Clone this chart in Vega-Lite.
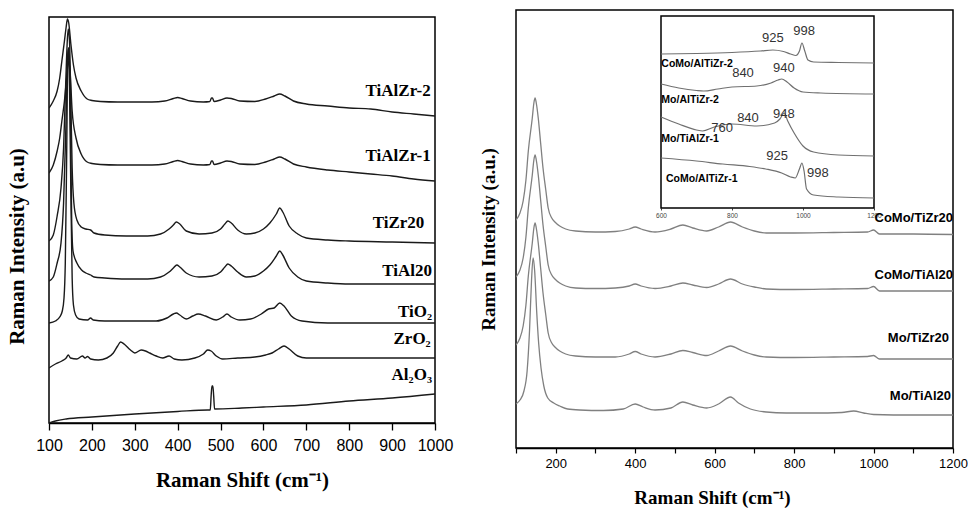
{
"$schema": "https://vega.github.io/schema/vega-lite/v6.json",
"padding": {"left": 6, "top": 9, "right": 0, "bottom": 0},
"background": "white",
"spacing": 25,
"config": {"view": {"stroke": "black", "strokeWidth": 1.5}, "axis": {"grid": false, "domainColor": "black", "tickColor": "black", "labelColor": "black", "titleColor": "black"}},
"datasets": {
"LF": [{"x":100,"x2":1000,"y":0,"y2":406}],
"L": [
{"s":"TiAlZr-2","x":100,"y":315},{"s":"TiAlZr-2","x":110,"y":322},{"s":"TiAlZr-2","x":119,"y":332},{"s":"TiAlZr-2","x":125,"y":345},{"s":"TiAlZr-2","x":130,"y":362},{"s":"TiAlZr-2","x":136,"y":382},{"s":"TiAlZr-2","x":140,"y":396},{"s":"TiAlZr-2","x":143,"y":404},{"s":"TiAlZr-2","x":146,"y":400},{"s":"TiAlZr-2","x":151,"y":379},{"s":"TiAlZr-2","x":157,"y":358},{"s":"TiAlZr-2","x":163,"y":345},{"s":"TiAlZr-2","x":175,"y":332},{"s":"TiAlZr-2","x":189,"y":324},{"s":"TiAlZr-2","x":200,"y":322.5},{"s":"TiAlZr-2","x":220,"y":321.5},{"s":"TiAlZr-2","x":260,"y":321},{"s":"TiAlZr-2","x":300,"y":321},{"s":"TiAlZr-2","x":340,"y":321},{"s":"TiAlZr-2","x":370,"y":322},{"s":"TiAlZr-2","x":390,"y":324.5},{"s":"TiAlZr-2","x":400,"y":325.5},{"s":"TiAlZr-2","x":410,"y":324.5},{"s":"TiAlZr-2","x":430,"y":322},{"s":"TiAlZr-2","x":460,"y":321},{"s":"TiAlZr-2","x":475,"y":321.5},{"s":"TiAlZr-2","x":479,"y":325},{"s":"TiAlZr-2","x":481,"y":325},{"s":"TiAlZr-2","x":485,"y":321.5},{"s":"TiAlZr-2","x":500,"y":323},{"s":"TiAlZr-2","x":515,"y":325},{"s":"TiAlZr-2","x":525,"y":324.5},{"s":"TiAlZr-2","x":545,"y":322},{"s":"TiAlZr-2","x":580,"y":321.5},{"s":"TiAlZr-2","x":605,"y":324},{"s":"TiAlZr-2","x":625,"y":327},{"s":"TiAlZr-2","x":638,"y":329},{"s":"TiAlZr-2","x":650,"y":327},{"s":"TiAlZr-2","x":670,"y":322},{"s":"TiAlZr-2","x":700,"y":319},{"s":"TiAlZr-2","x":750,"y":317},{"s":"TiAlZr-2","x":800,"y":315},{"s":"TiAlZr-2","x":850,"y":314},{"s":"TiAlZr-2","x":900,"y":311},{"s":"TiAlZr-2","x":950,"y":309},{"s":"TiAlZr-2","x":1000,"y":307},
{"s":"TiAlZr-1","x":100,"y":250},{"s":"TiAlZr-1","x":110,"y":258},{"s":"TiAlZr-1","x":119,"y":272},{"s":"TiAlZr-1","x":125,"y":285},{"s":"TiAlZr-1","x":130,"y":302},{"s":"TiAlZr-1","x":136,"y":322},{"s":"TiAlZr-1","x":140,"y":340},{"s":"TiAlZr-1","x":144,"y":358},{"s":"TiAlZr-1","x":146,"y":362},{"s":"TiAlZr-1","x":149,"y":352},{"s":"TiAlZr-1","x":154,"y":312},{"s":"TiAlZr-1","x":163,"y":285},{"s":"TiAlZr-1","x":175,"y":269},{"s":"TiAlZr-1","x":189,"y":261},{"s":"TiAlZr-1","x":200,"y":259.5},{"s":"TiAlZr-1","x":220,"y":258.5},{"s":"TiAlZr-1","x":260,"y":258},{"s":"TiAlZr-1","x":300,"y":258},{"s":"TiAlZr-1","x":340,"y":258},{"s":"TiAlZr-1","x":370,"y":259},{"s":"TiAlZr-1","x":390,"y":261.5},{"s":"TiAlZr-1","x":400,"y":262.5},{"s":"TiAlZr-1","x":410,"y":261.5},{"s":"TiAlZr-1","x":430,"y":259},{"s":"TiAlZr-1","x":460,"y":258},{"s":"TiAlZr-1","x":475,"y":258.5},{"s":"TiAlZr-1","x":479,"y":262},{"s":"TiAlZr-1","x":481,"y":262},{"s":"TiAlZr-1","x":485,"y":258.5},{"s":"TiAlZr-1","x":500,"y":260},{"s":"TiAlZr-1","x":515,"y":262},{"s":"TiAlZr-1","x":525,"y":261.5},{"s":"TiAlZr-1","x":545,"y":259},{"s":"TiAlZr-1","x":580,"y":258.5},{"s":"TiAlZr-1","x":605,"y":261},{"s":"TiAlZr-1","x":625,"y":264},{"s":"TiAlZr-1","x":638,"y":266},{"s":"TiAlZr-1","x":650,"y":264},{"s":"TiAlZr-1","x":670,"y":259},{"s":"TiAlZr-1","x":700,"y":256},{"s":"TiAlZr-1","x":750,"y":253},{"s":"TiAlZr-1","x":800,"y":251},{"s":"TiAlZr-1","x":850,"y":249},{"s":"TiAlZr-1","x":900,"y":247},{"s":"TiAlZr-1","x":950,"y":244},{"s":"TiAlZr-1","x":1000,"y":242},
{"s":"TiZr20","x":100,"y":182},{"s":"TiZr20","x":110,"y":188},{"s":"TiZr20","x":119,"y":207},{"s":"TiZr20","x":128,"y":235},{"s":"TiZr20","x":134,"y":275},{"s":"TiZr20","x":139,"y":340},{"s":"TiZr20","x":143,"y":385},{"s":"TiZr20","x":145,"y":394},{"s":"TiZr20","x":148,"y":380},{"s":"TiZr20","x":151,"y":320},{"s":"TiZr20","x":154,"y":255},{"s":"TiZr20","x":158,"y":220},{"s":"TiZr20","x":165,"y":203},{"s":"TiZr20","x":175,"y":196},{"s":"TiZr20","x":186,"y":194},{"s":"TiZr20","x":197,"y":193},{"s":"TiZr20","x":205,"y":190},{"s":"TiZr20","x":230,"y":188},{"s":"TiZr20","x":280,"y":187},{"s":"TiZr20","x":330,"y":187},{"s":"TiZr20","x":360,"y":189},{"s":"TiZr20","x":380,"y":194},{"s":"TiZr20","x":390,"y":198},{"s":"TiZr20","x":397,"y":201},{"s":"TiZr20","x":405,"y":199},{"s":"TiZr20","x":420,"y":192},{"s":"TiZr20","x":450,"y":189},{"s":"TiZr20","x":480,"y":190},{"s":"TiZr20","x":500,"y":194},{"s":"TiZr20","x":510,"y":199},{"s":"TiZr20","x":517,"y":202},{"s":"TiZr20","x":525,"y":200},{"s":"TiZr20","x":540,"y":193},{"s":"TiZr20","x":560,"y":189},{"s":"TiZr20","x":580,"y":190},{"s":"TiZr20","x":600,"y":194},{"s":"TiZr20","x":615,"y":200},{"s":"TiZr20","x":630,"y":209},{"s":"TiZr20","x":638,"y":215},{"s":"TiZr20","x":645,"y":211},{"s":"TiZr20","x":660,"y":197},{"s":"TiZr20","x":680,"y":189},{"s":"TiZr20","x":700,"y":185},{"s":"TiZr20","x":750,"y":183},{"s":"TiZr20","x":800,"y":182},{"s":"TiZr20","x":900,"y":181},{"s":"TiZr20","x":1000,"y":180},
{"s":"TiAl20","x":100,"y":142},{"s":"TiAl20","x":110,"y":146},{"s":"TiAl20","x":119,"y":160},{"s":"TiAl20","x":128,"y":180},{"s":"TiAl20","x":134,"y":220},{"s":"TiAl20","x":139,"y":290},{"s":"TiAl20","x":143,"y":360},{"s":"TiAl20","x":146,"y":375},{"s":"TiAl20","x":149,"y":340},{"s":"TiAl20","x":151,"y":270},{"s":"TiAl20","x":153,"y":200},{"s":"TiAl20","x":156,"y":172},{"s":"TiAl20","x":165,"y":160},{"s":"TiAl20","x":176,"y":153},{"s":"TiAl20","x":186,"y":150},{"s":"TiAl20","x":197,"y":148},{"s":"TiAl20","x":205,"y":146},{"s":"TiAl20","x":230,"y":145},{"s":"TiAl20","x":280,"y":144},{"s":"TiAl20","x":330,"y":144},{"s":"TiAl20","x":360,"y":146},{"s":"TiAl20","x":380,"y":151},{"s":"TiAl20","x":390,"y":155},{"s":"TiAl20","x":398,"y":158},{"s":"TiAl20","x":405,"y":156},{"s":"TiAl20","x":420,"y":150},{"s":"TiAl20","x":450,"y":146},{"s":"TiAl20","x":480,"y":147},{"s":"TiAl20","x":500,"y":151},{"s":"TiAl20","x":510,"y":156},{"s":"TiAl20","x":517,"y":159},{"s":"TiAl20","x":525,"y":157},{"s":"TiAl20","x":540,"y":151},{"s":"TiAl20","x":560,"y":146},{"s":"TiAl20","x":580,"y":147},{"s":"TiAl20","x":600,"y":152},{"s":"TiAl20","x":615,"y":158},{"s":"TiAl20","x":630,"y":167},{"s":"TiAl20","x":638,"y":172},{"s":"TiAl20","x":645,"y":168},{"s":"TiAl20","x":660,"y":155},{"s":"TiAl20","x":680,"y":146},{"s":"TiAl20","x":700,"y":142},{"s":"TiAl20","x":750,"y":140},{"s":"TiAl20","x":800,"y":139},{"s":"TiAl20","x":900,"y":139},{"s":"TiAl20","x":1000,"y":139},
{"s":"TiO2","x":100,"y":100},{"s":"TiO2","x":115,"y":102},{"s":"TiO2","x":125,"y":106},{"s":"TiO2","x":131,"y":112},{"s":"TiO2","x":135,"y":125},{"s":"TiO2","x":138,"y":160},{"s":"TiO2","x":141,"y":260},{"s":"TiO2","x":144,"y":370},{"s":"TiO2","x":146,"y":375},{"s":"TiO2","x":148,"y":330},{"s":"TiO2","x":151,"y":230},{"s":"TiO2","x":154,"y":145},{"s":"TiO2","x":157,"y":118},{"s":"TiO2","x":162,"y":108},{"s":"TiO2","x":170,"y":104},{"s":"TiO2","x":190,"y":103},{"s":"TiO2","x":197,"y":105},{"s":"TiO2","x":203,"y":103},{"s":"TiO2","x":230,"y":102},{"s":"TiO2","x":300,"y":102},{"s":"TiO2","x":350,"y":102},{"s":"TiO2","x":375,"y":105},{"s":"TiO2","x":390,"y":109},{"s":"TiO2","x":397,"y":110},{"s":"TiO2","x":405,"y":108},{"s":"TiO2","x":420,"y":104},{"s":"TiO2","x":435,"y":107},{"s":"TiO2","x":448,"y":109},{"s":"TiO2","x":465,"y":107},{"s":"TiO2","x":490,"y":103},{"s":"TiO2","x":505,"y":106},{"s":"TiO2","x":515,"y":109},{"s":"TiO2","x":525,"y":106},{"s":"TiO2","x":545,"y":103},{"s":"TiO2","x":570,"y":104},{"s":"TiO2","x":595,"y":109},{"s":"TiO2","x":612,"y":114},{"s":"TiO2","x":625,"y":115},{"s":"TiO2","x":638,"y":120},{"s":"TiO2","x":648,"y":117},{"s":"TiO2","x":665,"y":107},{"s":"TiO2","x":690,"y":102},{"s":"TiO2","x":750,"y":100},{"s":"TiO2","x":850,"y":100},{"s":"TiO2","x":1000,"y":100},
{"s":"ZrO2","x":100,"y":55},{"s":"ZrO2","x":115,"y":59},{"s":"ZrO2","x":130,"y":62},{"s":"ZrO2","x":140,"y":65},{"s":"ZrO2","x":145,"y":68},{"s":"ZrO2","x":150,"y":65},{"s":"ZrO2","x":165,"y":64},{"s":"ZrO2","x":178,"y":67},{"s":"ZrO2","x":184,"y":65},{"s":"ZrO2","x":190,"y":66.5},{"s":"ZrO2","x":197,"y":64},{"s":"ZrO2","x":215,"y":63},{"s":"ZrO2","x":235,"y":65},{"s":"ZrO2","x":250,"y":70},{"s":"ZrO2","x":260,"y":77},{"s":"ZrO2","x":267,"y":81},{"s":"ZrO2","x":275,"y":79},{"s":"ZrO2","x":290,"y":73},{"s":"ZrO2","x":300,"y":70},{"s":"ZrO2","x":315,"y":73},{"s":"ZrO2","x":325,"y":72},{"s":"ZrO2","x":335,"y":70},{"s":"ZrO2","x":350,"y":67},{"s":"ZrO2","x":365,"y":65},{"s":"ZrO2","x":380,"y":67},{"s":"ZrO2","x":392,"y":64},{"s":"ZrO2","x":410,"y":63},{"s":"ZrO2","x":440,"y":65},{"s":"ZrO2","x":460,"y":69},{"s":"ZrO2","x":470,"y":73},{"s":"ZrO2","x":478,"y":72},{"s":"ZrO2","x":490,"y":67},{"s":"ZrO2","x":505,"y":64},{"s":"ZrO2","x":540,"y":65},{"s":"ZrO2","x":580,"y":66},{"s":"ZrO2","x":605,"y":68},{"s":"ZrO2","x":620,"y":70},{"s":"ZrO2","x":635,"y":74},{"s":"ZrO2","x":648,"y":77},{"s":"ZrO2","x":660,"y":74},{"s":"ZrO2","x":680,"y":67},{"s":"ZrO2","x":700,"y":65},{"s":"ZrO2","x":800,"y":65},{"s":"ZrO2","x":900,"y":65},{"s":"ZrO2","x":1000,"y":65},
{"s":"Al2O3","x":100,"y":0},{"s":"Al2O3","x":115,"y":2},{"s":"Al2O3","x":140,"y":4},{"s":"Al2O3","x":200,"y":6},{"s":"Al2O3","x":300,"y":9},{"s":"Al2O3","x":400,"y":11.5},{"s":"Al2O3","x":470,"y":13},{"s":"Al2O3","x":476,"y":13},{"s":"Al2O3","x":478,"y":27},{"s":"Al2O3","x":480,"y":37},{"s":"Al2O3","x":482,"y":37},{"s":"Al2O3","x":484,"y":27},{"s":"Al2O3","x":486,"y":14},{"s":"Al2O3","x":550,"y":15},{"s":"Al2O3","x":600,"y":16},{"s":"Al2O3","x":700,"y":18},{"s":"Al2O3","x":800,"y":22},{"s":"Al2O3","x":900,"y":25},{"s":"Al2O3","x":1000,"y":29}
],
"LL": [
{"t":"TiAlZr-2","x":990,"y":332},{"t":"TiAlZr-1","x":990,"y":267},{"t":"TiZr20","x":975,"y":200},{"t":"TiAl20","x":993,"y":152},{"t":"TiO₂","x":993,"y":111},{"t":"ZrO₂","x":990,"y":84},{"t":"Al₂O₃","x":993,"y":48}
],
"R": [
{"s":"CoMo/TiZr20","x":100,"y":228},{"s":"CoMo/TiZr20","x":110,"y":235},{"s":"CoMo/TiZr20","x":118,"y":247},{"s":"CoMo/TiZr20","x":125,"y":268},{"s":"CoMo/TiZr20","x":131,"y":297},{"s":"CoMo/TiZr20","x":141,"y":330},{"s":"CoMo/TiZr20","x":145,"y":345},{"s":"CoMo/TiZr20","x":148,"y":350},{"s":"CoMo/TiZr20","x":151,"y":345},{"s":"CoMo/TiZr20","x":156,"y":330},{"s":"CoMo/TiZr20","x":162,"y":305},{"s":"CoMo/TiZr20","x":168,"y":280},{"s":"CoMo/TiZr20","x":175,"y":258},{"s":"CoMo/TiZr20","x":181,"y":240},{"s":"CoMo/TiZr20","x":190,"y":230},{"s":"CoMo/TiZr20","x":198,"y":226},{"s":"CoMo/TiZr20","x":210,"y":222},{"s":"CoMo/TiZr20","x":225,"y":219},{"s":"CoMo/TiZr20","x":250,"y":217},{"s":"CoMo/TiZr20","x":300,"y":216},{"s":"CoMo/TiZr20","x":350,"y":216.5},{"s":"CoMo/TiZr20","x":385,"y":219},{"s":"CoMo/TiZr20","x":400,"y":221},{"s":"CoMo/TiZr20","x":415,"y":219},{"s":"CoMo/TiZr20","x":450,"y":216},{"s":"CoMo/TiZr20","x":490,"y":219},{"s":"CoMo/TiZr20","x":520,"y":223},{"s":"CoMo/TiZr20","x":545,"y":220},{"s":"CoMo/TiZr20","x":580,"y":217},{"s":"CoMo/TiZr20","x":610,"y":221},{"s":"CoMo/TiZr20","x":640,"y":226},{"s":"CoMo/TiZr20","x":670,"y":221},{"s":"CoMo/TiZr20","x":700,"y":217},{"s":"CoMo/TiZr20","x":730,"y":215},{"s":"CoMo/TiZr20","x":800,"y":215},{"s":"CoMo/TiZr20","x":900,"y":215.5},{"s":"CoMo/TiZr20","x":985,"y":216},{"s":"CoMo/TiZr20","x":1000,"y":218},{"s":"CoMo/TiZr20","x":1015,"y":214},{"s":"CoMo/TiZr20","x":1100,"y":214},{"s":"CoMo/TiZr20","x":1200,"y":213.5},
{"s":"CoMo/TiAl20","x":100,"y":171},{"s":"CoMo/TiAl20","x":110,"y":178},{"s":"CoMo/TiAl20","x":118,"y":190},{"s":"CoMo/TiAl20","x":125,"y":211},{"s":"CoMo/TiAl20","x":131,"y":240},{"s":"CoMo/TiAl20","x":141,"y":273},{"s":"CoMo/TiAl20","x":145,"y":288},{"s":"CoMo/TiAl20","x":148,"y":293},{"s":"CoMo/TiAl20","x":151,"y":288},{"s":"CoMo/TiAl20","x":156,"y":273},{"s":"CoMo/TiAl20","x":162,"y":248},{"s":"CoMo/TiAl20","x":168,"y":223},{"s":"CoMo/TiAl20","x":175,"y":201},{"s":"CoMo/TiAl20","x":181,"y":183},{"s":"CoMo/TiAl20","x":190,"y":173},{"s":"CoMo/TiAl20","x":198,"y":169},{"s":"CoMo/TiAl20","x":210,"y":165},{"s":"CoMo/TiAl20","x":225,"y":162},{"s":"CoMo/TiAl20","x":250,"y":160},{"s":"CoMo/TiAl20","x":300,"y":159.5},{"s":"CoMo/TiAl20","x":350,"y":160},{"s":"CoMo/TiAl20","x":385,"y":162},{"s":"CoMo/TiAl20","x":400,"y":164},{"s":"CoMo/TiAl20","x":415,"y":162},{"s":"CoMo/TiAl20","x":450,"y":159.5},{"s":"CoMo/TiAl20","x":490,"y":162},{"s":"CoMo/TiAl20","x":520,"y":165},{"s":"CoMo/TiAl20","x":545,"y":163},{"s":"CoMo/TiAl20","x":580,"y":160.5},{"s":"CoMo/TiAl20","x":610,"y":164},{"s":"CoMo/TiAl20","x":640,"y":169},{"s":"CoMo/TiAl20","x":670,"y":164},{"s":"CoMo/TiAl20","x":700,"y":161},{"s":"CoMo/TiAl20","x":730,"y":159},{"s":"CoMo/TiAl20","x":800,"y":158.5},{"s":"CoMo/TiAl20","x":900,"y":159},{"s":"CoMo/TiAl20","x":985,"y":159.5},{"s":"CoMo/TiAl20","x":1000,"y":161.5},{"s":"CoMo/TiAl20","x":1015,"y":157},{"s":"CoMo/TiAl20","x":1100,"y":157},{"s":"CoMo/TiAl20","x":1200,"y":157},
{"s":"Mo/TiZr20","x":100,"y":103},{"s":"Mo/TiZr20","x":110,"y":110},{"s":"Mo/TiZr20","x":118,"y":122},{"s":"Mo/TiZr20","x":125,"y":143},{"s":"Mo/TiZr20","x":131,"y":172},{"s":"Mo/TiZr20","x":141,"y":205},{"s":"Mo/TiZr20","x":145,"y":220},{"s":"Mo/TiZr20","x":148,"y":225},{"s":"Mo/TiZr20","x":151,"y":220},{"s":"Mo/TiZr20","x":156,"y":205},{"s":"Mo/TiZr20","x":162,"y":180},{"s":"Mo/TiZr20","x":168,"y":155},{"s":"Mo/TiZr20","x":175,"y":133},{"s":"Mo/TiZr20","x":181,"y":115},{"s":"Mo/TiZr20","x":190,"y":105},{"s":"Mo/TiZr20","x":198,"y":101},{"s":"Mo/TiZr20","x":210,"y":97},{"s":"Mo/TiZr20","x":225,"y":94},{"s":"Mo/TiZr20","x":250,"y":92},{"s":"Mo/TiZr20","x":300,"y":91},{"s":"Mo/TiZr20","x":350,"y":91},{"s":"Mo/TiZr20","x":385,"y":94},{"s":"Mo/TiZr20","x":400,"y":96.5},{"s":"Mo/TiZr20","x":415,"y":94},{"s":"Mo/TiZr20","x":450,"y":91},{"s":"Mo/TiZr20","x":490,"y":94},{"s":"Mo/TiZr20","x":520,"y":97.5},{"s":"Mo/TiZr20","x":545,"y":95.5},{"s":"Mo/TiZr20","x":580,"y":92.5},{"s":"Mo/TiZr20","x":610,"y":97},{"s":"Mo/TiZr20","x":640,"y":102},{"s":"Mo/TiZr20","x":670,"y":97},{"s":"Mo/TiZr20","x":700,"y":93},{"s":"Mo/TiZr20","x":730,"y":91},{"s":"Mo/TiZr20","x":800,"y":90.5},{"s":"Mo/TiZr20","x":900,"y":91},{"s":"Mo/TiZr20","x":985,"y":91.5},{"s":"Mo/TiZr20","x":1000,"y":92.5},{"s":"Mo/TiZr20","x":1015,"y":89},{"s":"Mo/TiZr20","x":1100,"y":89},{"s":"Mo/TiZr20","x":1200,"y":89},
{"s":"Mo/TiAl20","x":100,"y":44},{"s":"Mo/TiAl20","x":110,"y":48},{"s":"Mo/TiAl20","x":120,"y":57},{"s":"Mo/TiAl20","x":128,"y":77},{"s":"Mo/TiAl20","x":134,"y":117},{"s":"Mo/TiAl20","x":139,"y":167},{"s":"Mo/TiAl20","x":143,"y":190},{"s":"Mo/TiAl20","x":147,"y":177},{"s":"Mo/TiAl20","x":152,"y":137},{"s":"Mo/TiAl20","x":157,"y":105},{"s":"Mo/TiAl20","x":163,"y":80},{"s":"Mo/TiAl20","x":170,"y":62},{"s":"Mo/TiAl20","x":180,"y":50},{"s":"Mo/TiAl20","x":195,"y":45},{"s":"Mo/TiAl20","x":210,"y":42},{"s":"Mo/TiAl20","x":230,"y":39},{"s":"Mo/TiAl20","x":260,"y":38},{"s":"Mo/TiAl20","x":320,"y":37.5},{"s":"Mo/TiAl20","x":370,"y":39},{"s":"Mo/TiAl20","x":400,"y":44},{"s":"Mo/TiAl20","x":420,"y":41},{"s":"Mo/TiAl20","x":450,"y":38},{"s":"Mo/TiAl20","x":490,"y":40},{"s":"Mo/TiAl20","x":520,"y":46},{"s":"Mo/TiAl20","x":545,"y":43},{"s":"Mo/TiAl20","x":580,"y":40},{"s":"Mo/TiAl20","x":610,"y":44},{"s":"Mo/TiAl20","x":640,"y":51},{"s":"Mo/TiAl20","x":660,"y":45},{"s":"Mo/TiAl20","x":690,"y":39},{"s":"Mo/TiAl20","x":730,"y":36},{"s":"Mo/TiAl20","x":780,"y":35},{"s":"Mo/TiAl20","x":850,"y":35},{"s":"Mo/TiAl20","x":920,"y":35.5},{"s":"Mo/TiAl20","x":950,"y":37},{"s":"Mo/TiAl20","x":975,"y":35},{"s":"Mo/TiAl20","x":1000,"y":33.5},{"s":"Mo/TiAl20","x":1100,"y":33},{"s":"Mo/TiAl20","x":1200,"y":33}
],
"RL": [
{"t":"CoMo/TiZr20","x":1200,"y":230},{"t":"CoMo/TiAl20","x":1200,"y":173},{"t":"Mo/TiZr20","x":1190,"y":110},{"t":"Mo/TiAl20","x":1195,"y":52}
],
"IF": [{"x":600,"x2":1200,"y":0,"y2":192}],
"I": [
{"s":"CoMo/AlTiZr-2","x":600,"y":154},{"s":"CoMo/AlTiZr-2","x":700,"y":154.5},{"s":"CoMo/AlTiZr-2","x":800,"y":155.5},{"s":"CoMo/AlTiZr-2","x":880,"y":157},{"s":"CoMo/AlTiZr-2","x":915,"y":158},{"s":"CoMo/AlTiZr-2","x":945,"y":156.5},{"s":"CoMo/AlTiZr-2","x":965,"y":154},{"s":"CoMo/AlTiZr-2","x":980,"y":152.5},{"s":"CoMo/AlTiZr-2","x":990,"y":157},{"s":"CoMo/AlTiZr-2","x":997,"y":165},{"s":"CoMo/AlTiZr-2","x":1005,"y":157},{"s":"CoMo/AlTiZr-2","x":1014,"y":148},{"s":"CoMo/AlTiZr-2","x":1030,"y":146},{"s":"CoMo/AlTiZr-2","x":1100,"y":145.5},{"s":"CoMo/AlTiZr-2","x":1200,"y":145},
{"s":"Mo/AlTiZr-2","x":600,"y":124},{"s":"Mo/AlTiZr-2","x":650,"y":120},{"s":"Mo/AlTiZr-2","x":700,"y":117.5},{"s":"Mo/AlTiZr-2","x":720,"y":117},{"s":"Mo/AlTiZr-2","x":760,"y":119},{"s":"Mo/AlTiZr-2","x":800,"y":121},{"s":"Mo/AlTiZr-2","x":870,"y":122},{"s":"Mo/AlTiZr-2","x":910,"y":125},{"s":"Mo/AlTiZr-2","x":930,"y":128},{"s":"Mo/AlTiZr-2","x":940,"y":129},{"s":"Mo/AlTiZr-2","x":955,"y":126},{"s":"Mo/AlTiZr-2","x":975,"y":120},{"s":"Mo/AlTiZr-2","x":1000,"y":116},{"s":"Mo/AlTiZr-2","x":1050,"y":115},{"s":"Mo/AlTiZr-2","x":1200,"y":114},
{"s":"Mo/TiAlZr-1","x":600,"y":91},{"s":"Mo/TiAlZr-1","x":650,"y":84},{"s":"Mo/TiAlZr-1","x":700,"y":78},{"s":"Mo/TiAlZr-1","x":717,"y":77},{"s":"Mo/TiAlZr-1","x":750,"y":81},{"s":"Mo/TiAlZr-1","x":800,"y":84},{"s":"Mo/TiAlZr-1","x":870,"y":82},{"s":"Mo/TiAlZr-1","x":920,"y":85},{"s":"Mo/TiAlZr-1","x":935,"y":89},{"s":"Mo/TiAlZr-1","x":947,"y":95},{"s":"Mo/TiAlZr-1","x":957,"y":87},{"s":"Mo/TiAlZr-1","x":975,"y":75},{"s":"Mo/TiAlZr-1","x":1000,"y":62},{"s":"Mo/TiAlZr-1","x":1030,"y":56},{"s":"Mo/TiAlZr-1","x":1100,"y":53},{"s":"Mo/TiAlZr-1","x":1200,"y":52},
{"s":"CoMo/AlTiZr-1","x":600,"y":50},{"s":"CoMo/AlTiZr-1","x":700,"y":47},{"s":"CoMo/AlTiZr-1","x":774,"y":44},{"s":"CoMo/AlTiZr-1","x":850,"y":41.5},{"s":"CoMo/AlTiZr-1","x":895,"y":39},{"s":"CoMo/AlTiZr-1","x":940,"y":35},{"s":"CoMo/AlTiZr-1","x":965,"y":31},{"s":"CoMo/AlTiZr-1","x":978,"y":30},{"s":"CoMo/AlTiZr-1","x":990,"y":39},{"s":"CoMo/AlTiZr-1","x":997,"y":45},{"s":"CoMo/AlTiZr-1","x":1003,"y":37},{"s":"CoMo/AlTiZr-1","x":1010,"y":19},{"s":"CoMo/AlTiZr-1","x":1030,"y":13},{"s":"CoMo/AlTiZr-1","x":1100,"y":11},{"s":"CoMo/AlTiZr-1","x":1200,"y":10}
],
"IL": [
{"t":"CoMo/AlTiZr-2","x":601,"y":144},{"t":"Mo/AlTiZr-2","x":601,"y":108},{"t":"Mo/TiAlZr-1","x":601,"y":69},{"t":"CoMo/AlTiZr-1","x":614,"y":29}
],
"IP": [
{"t":"925","x":915,"y":170},{"t":"998","x":1003,"y":177},{"t":"840","x":831,"y":135},{"t":"940","x":946,"y":140},{"t":"760","x":772,"y":80},{"t":"840","x":845,"y":90},{"t":"948","x":946,"y":94},{"t":"925","x":927,"y":52},{"t":"998","x":1042,"y":35}
]
},
"hconcat": [
{
"width": 386, "height": 413,
"view": {"stroke": null},
"layer": [
{"data": {"name": "LF"}, "mark": {"type": "rect", "fillOpacity": 0, "fill": "white", "stroke": "black", "strokeWidth": 1.5},
"encoding": {"x": {"field": "x", "type": "quantitative"}, "x2": {"field": "x2"}, "y": {"field": "y", "type": "quantitative"}, "y2": {"field": "y2"}}},
{"data": {"name": "L"}, "mark": {"type": "line", "color": "#1a1a1a", "strokeWidth": 1.4, "interpolate": "monotone", "clip": true},
"encoding": {
"x": {"field": "x", "type": "quantitative", "scale": {"domain": [100, 1000], "nice": false, "zero": false},
"axis": {"values": [100,150,200,250,300,350,400,450,500,550,600,650,700,750,800,850,900,950,1000], "format": "d", "labelExpr": "datum.value % 100 === 0 ? datum.label : ''", "tickSize": 7, "tickWidth": 1.3, "domainWidth": 1.5, "labelFont": "Liberation Sans", "labelFontSize": 16, "labelPadding": 7, "labelFlush": false, "labelOverlap": false, "title": "Raman Shift (cm⁻¹)", "titleFont": "Liberation Serif", "titleFontSize": 21, "titleFontWeight": "bold", "titlePadding": 16}},
"y": {"field": "y", "type": "quantitative", "scale": {"domain": [0, 413], "nice": false, "zero": false},
"axis": {"title": "Raman Intensity (a.u)", "ticks": false, "labels": false, "domain": false, "titleFont": "Liberation Serif", "titleFontSize": 21, "titleFontWeight": "bold", "titlePadding": 22, "titleY": 236}},
"detail": {"field": "s"}
}},
{"data": {"name": "LL"}, "mark": {"type": "text", "align": "right", "baseline": "middle", "font": "Liberation Serif", "fontWeight": "bold", "fontSize": 17, "color": "black"},
"encoding": {"x": {"field": "x", "type": "quantitative"}, "y": {"field": "y", "type": "quantitative"}, "text": {"field": "t"}}}
]
},
{
"width": 437, "height": 438,
"layer": [
{"data": {"name": "R"}, "mark": {"type": "line", "color": "#808080", "strokeWidth": 1.3, "interpolate": "monotone", "clip": true},
"encoding": {
"x": {"field": "x", "type": "quantitative", "scale": {"domain": [100, 1200], "nice": false, "zero": false},
"axis": {"orient": "bottom", "values": [100,200,300,400,500,600,700,800,900,1000,1100,1200], "format": "d", "labelExpr": "datum.value % 200 === 0 ? datum.label : ''", "tickSize": 5, "tickWidth": 1.2, "domainWidth": 1.5, "labelFont": "Liberation Sans", "labelFontSize": 13, "labelPadding": 4, "labelFlush": false, "labelOverlap": false, "title": "Raman Shift (cm⁻¹)", "titleFont": "Liberation Serif", "titleFontSize": 19, "titleFontWeight": "bold", "titlePadding": 18, "titleX": 196}},
"y": {"field": "y", "type": "quantitative", "scale": {"domain": [0, 438], "nice": false, "zero": false},
"axis": {"orient": "left", "title": "Raman Intensity (a.u.)", "ticks": false, "labels": false, "domain": false, "titleFont": "Liberation Serif", "titleFontSize": 19, "titleFontWeight": "bold", "titlePadding": 18, "titleY": 229}},
"detail": {"field": "s"}
}},
{"data": {"name": "RL"}, "mark": {"type": "text", "align": "right", "baseline": "middle", "font": "Liberation Sans", "fontWeight": "bold", "fontSize": 13, "color": "black"},
"encoding": {"x": {"field": "x", "type": "quantitative", "scale": {"domain": [100, 1200], "nice": false, "zero": false}, "axis": null}, "y": {"field": "y", "type": "quantitative", "scale": {"domain": [0, 438], "nice": false, "zero": false}, "axis": null}, "text": {"field": "t"}}},
{"data": {"name": "IF"}, "mark": {"type": "rect", "fill": "white", "stroke": "black", "strokeWidth": 1.5},
"encoding": {"x": {"field": "x", "type": "quantitative", "scale": {"domain": [600, 1200], "range": [145, 358], "nice": false, "zero": false}, "axis": null}, "x2": {"field": "x2"}, "y": {"field": "y", "type": "quantitative", "scale": {"domain": [0, 192], "range": [198, 6], "nice": false, "zero": false}, "axis": null}, "y2": {"field": "y2"}}},
{"data": {"name": "I"}, "mark": {"type": "line", "color": "#707070", "strokeWidth": 1.2, "interpolate": "monotone", "clip": true},
"encoding": {
"x": {"field": "x", "type": "quantitative", "scale": {"domain": [600, 1200], "range": [145, 358], "nice": false, "zero": false},
"axis": {"orient": "bottom", "offset": -240, "values": [600, 800, 1000, 1200], "format": "d", "domain": false, "tickSize": 2, "tickColor": "#444", "labelFont": "Liberation Sans", "labelFontSize": 6.5, "labelColor": "#444", "labelPadding": 2, "labelFlush": false, "title": null}},
"y": {"field": "y", "type": "quantitative", "scale": {"domain": [0, 192], "range": [198, 6], "nice": false, "zero": false}, "axis": null},
"detail": {"field": "s"}
}},
{"data": {"name": "IL"}, "mark": {"type": "text", "align": "left", "baseline": "middle", "font": "Liberation Sans", "fontWeight": "bold", "fontSize": 10.5, "color": "black"},
"encoding": {"x": {"field": "x", "type": "quantitative", "scale": {"domain": [600, 1200], "range": [145, 358], "nice": false, "zero": false}, "axis": null}, "y": {"field": "y", "type": "quantitative", "scale": {"domain": [0, 192], "range": [198, 6], "nice": false, "zero": false}, "axis": null}, "text": {"field": "t"}}},
{"data": {"name": "IP"}, "mark": {"type": "text", "align": "center", "baseline": "middle", "font": "Liberation Sans", "fontSize": 13, "color": "#333"},
"encoding": {"x": {"field": "x", "type": "quantitative", "scale": {"domain": [600, 1200], "range": [145, 358], "nice": false, "zero": false}, "axis": null}, "y": {"field": "y", "type": "quantitative", "scale": {"domain": [0, 192], "range": [198, 6], "nice": false, "zero": false}, "axis": null}, "text": {"field": "t"}}}
],
"resolve": {"scale": {"x": "independent", "y": "independent"}, "axis": {"x": "independent", "y": "independent"}}
}
]
}
